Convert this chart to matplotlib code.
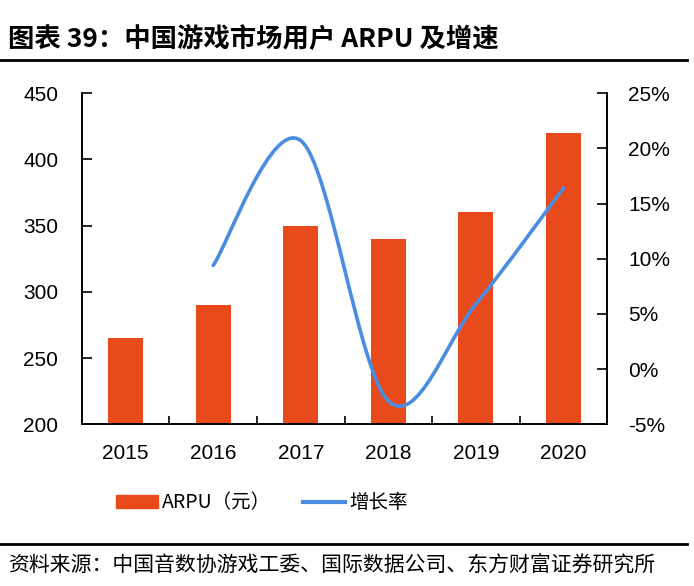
import matplotlib
matplotlib.use("Agg")
import matplotlib.pyplot as plt
import numpy as np
from matplotlib.path import Path
from matplotlib.patches import PathPatch, Patch
from matplotlib.lines import Line2D
from matplotlib.ticker import FuncFormatter, FixedLocator

plt.rcParams['font.family'] = ['Liberation Sans', 'Noto Sans CJK SC', 'DejaVu Sans']

# data
years = ['2015', '2016', '2017', '2018', '2019', '2020']
arpu = [265, 290, 350, 340, 360, 420]
growth_years = ['2016', '2017', '2018', '2019', '2020']
growth = [9.4, 20.7, -2.9, 5.9, 16.4]

bar_color = '#E84A1C'
line_color = '#4A8CE0'
cjk = ['Noto Sans CJK SC', 'DejaVu Sans']


def smooth_path(xs, ys):
    # Catmull-Rom style bezier through the points (like Excel smoothed line)
    pts = np.column_stack([xs, ys]).astype(float)
    n = len(pts)
    verts = [pts[0]]
    codes = [Path.MOVETO]
    for i in range(n - 1):
        p0 = pts[i - 1] if i > 0 else pts[i]
        p1 = pts[i]
        p2 = pts[i + 1]
        p3 = pts[i + 2] if i + 2 < n else pts[i + 1]
        c1 = p1 + (p2 - p0) / 6.0
        c2 = p2 - (p3 - p1) / 6.0
        verts += [c1, c2, p2]
        codes += [Path.CURVE4] * 3
    return Path(verts, codes)


fig = plt.figure(figsize=(6.94, 5.86), dpi=100)
ax = fig.add_axes([0.118, 0.276, 0.757, 0.565])
ax2 = ax.twinx()

x = np.arange(len(years))
ax.bar(x, arpu, width=0.4, color=bar_color, zorder=2)
ax.set_xlim(-0.5, len(years) - 0.5)
ax.set_ylim(200, 450)
ax.set_yticks(np.arange(200, 451, 50))

gx = [years.index(y) for y in growth_years]
ax2.add_patch(PathPatch(smooth_path(gx, growth), fill=False, edgecolor=line_color,
                        linewidth=2.6, capstyle='round', zorder=3))
ax2.set_ylim(-5, 25)
ax2.set_yticks(np.arange(-5, 26, 5))
ax2.yaxis.set_major_formatter(FuncFormatter(lambda v, p: '%d%%' % v))

ax.set_xticks(x)
ax.set_xticklabels(years)
ax.xaxis.set_minor_locator(FixedLocator(x[:-1] + 0.5))
ax.tick_params(axis='x', which='major', length=0, pad=14, labelsize=15)
ax.tick_params(axis='x', which='minor', direction='in', length=6, width=1.2)
ax.tick_params(axis='y', direction='in', length=7, width=1.2, pad=17, labelsize=15)
ax2.tick_params(axis='y', direction='in', length=7, width=1.2, pad=15, labelsize=15)

for a in (ax, ax2):
    a.spines['top'].set_visible(False)
    for s in ('left', 'right', 'bottom'):
        a.spines[s].set_linewidth(1.2)

handles = [Patch(color=bar_color), Line2D([0], [0], color=line_color, lw=3)]
fig.legend(handles, ['ARPU（元）', '增长率'], loc='center', bbox_to_anchor=(0.377, 0.142),
           ncol=2, frameon=False, prop={'family': cjk, 'size': 14},
           handlelength=2.2, handleheight=0.6, columnspacing=1.6, handletextpad=0.2)

fig.text(0.012, 0.932, '图表 39：中国游戏市场用户 ARPU 及增速', family=cjk,
         fontsize=19, fontweight='bold', va='center', ha='left')
fig.add_artist(Line2D([0.0, 0.99], [0.898, 0.898], color='black', lw=2))
fig.add_artist(Line2D([0.0, 0.99], [0.072, 0.072], color='black', lw=2))
fig.text(0.012, 0.034, '资料来源：中国音数协游戏工委、国际数据公司、东方财富证券研究所',
         family=cjk, fontsize=15, va='center', ha='left')

fig.savefig('out.png', dpi=100)
